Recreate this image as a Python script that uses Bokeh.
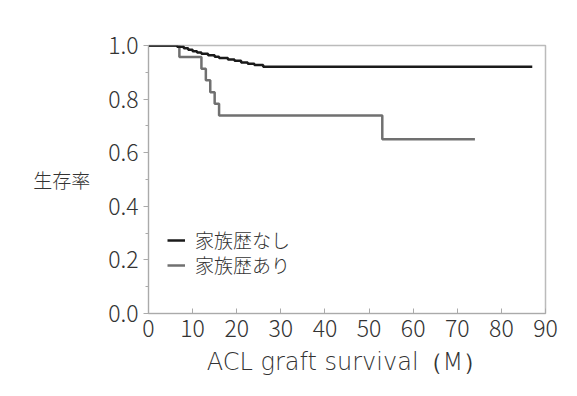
from bokeh.plotting import figure
from bokeh.models import (Range1d, Legend, LegendItem, NumeralTickFormatter, FixedTicker)
from bokeh.embed import file_html
from bokeh.resources import INLINE

# Data (Kaplan-Meier survival estimates)
no_history_t = [0, 6.5, 8, 9, 10, 11, 12, 13.5, 15, 16, 18, 19.5, 21, 22.5, 24, 26, 87]
no_history_s = [1.0, 0.995, 0.990, 0.984, 0.979, 0.974, 0.969, 0.964, 0.958, 0.953,
                0.948, 0.943, 0.937, 0.932, 0.927, 0.921, 0.921]
history_t = [0, 7, 12, 13, 14, 15, 16, 53, 74]
history_s = [1.0, 0.957, 0.913, 0.870, 0.826, 0.783, 0.739, 0.650, 0.650]

labels = ["家族歴なし", "家族歴あり"]
x_ticks = [0, 10, 20, 30, 40, 50, 60, 70, 80, 90]
y_ticks = [0.0, 0.2, 0.4, 0.6, 0.8, 1.0]

FONT = "'Noto Sans CJK JP Light', 'Noto Sans CJK JP'"
LATIN = "'DejaVu Sans Light', 'DejaVu Sans'"
TXT = "#333333"
W, H = 561, 380

p = figure(width=W, height=H, output_backend="svg", toolbar_location=None,
           x_range=Range1d(0, 90), y_range=Range1d(0, 1),
           min_border_left=148, min_border_right=16, min_border_top=45, min_border_bottom=67)

p.border_fill_color = "white"
p.background_fill_color = "white"
p.grid.visible = False
p.outline_line_color = "#bbbbbb"
p.outline_line_width = 1.5

r_gray = p.step(history_t, history_s, mode="after", line_color="#707070", line_width=2.5)
r_black = p.step(no_history_t, no_history_s, mode="after", line_color="#1a1a1a", line_width=2.5)

xa = p.xaxis[0]
xa.ticker = FixedTicker(ticks=x_ticks)
xa.axis_line_color = "#aaaaaa"
xa.major_tick_line_color = "#aaaaaa"
xa.major_tick_in = 5
xa.major_tick_out = 0
xa.minor_tick_line_color = None
xa.major_label_text_font = FONT
xa.major_label_text_font_size = "23px"
xa.major_label_text_color = TXT
xa.major_label_standoff = 6
xa.axis_label = "ACL graft survival（M）"
xa.axis_label_text_font = LATIN
xa.axis_label_text_font_size = "24px"
xa.axis_label_text_font_style = "normal"
xa.axis_label_text_color = TXT
xa.axis_label_standoff = 8

ya = p.yaxis[0]
ya.ticker = FixedTicker(ticks=y_ticks, minor_ticks=[0.1, 0.3, 0.5, 0.7, 0.9])
ya.formatter = NumeralTickFormatter(format="0.0")
ya.axis_line_color = "#aaaaaa"
ya.major_tick_line_color = "#aaaaaa"
ya.minor_tick_line_color = "#aaaaaa"
ya.major_tick_in = 0
ya.major_tick_out = 5
ya.minor_tick_in = 0
ya.minor_tick_out = 3
ya.major_label_text_font = FONT
ya.major_label_text_font_size = "23px"
ya.major_label_text_color = TXT
ya.major_label_standoff = 5
ya.axis_label = "生存率"
ya.axis_label_orientation = "horizontal"
ya.axis_label_text_font = FONT
ya.axis_label_text_font_size = "19px"
ya.axis_label_text_font_style = "normal"
ya.axis_label_text_color = TXT
ya.axis_label_standoff = 15


def make_legend(item, loc):
    lg = Legend(items=[item], location=loc)
    lg.border_line_color = None
    lg.background_fill_alpha = 0
    lg.padding = 0
    lg.margin = 0
    lg.spacing = 0
    lg.glyph_height = 20
    lg.glyph_width = 18
    lg.label_standoff = 10
    lg.label_text_font = FONT
    lg.label_text_font_size = "19px"
    lg.label_text_color = TXT
    return lg


p.add_layout(make_legend(LegendItem(label=labels[0], renderers=[r_black]), (19, 60)), "center")
p.add_layout(make_legend(LegendItem(label=labels[1], renderers=[r_gray]), (19, 35)), "center")

open("out.html", "w").write(file_html(p, INLINE))
